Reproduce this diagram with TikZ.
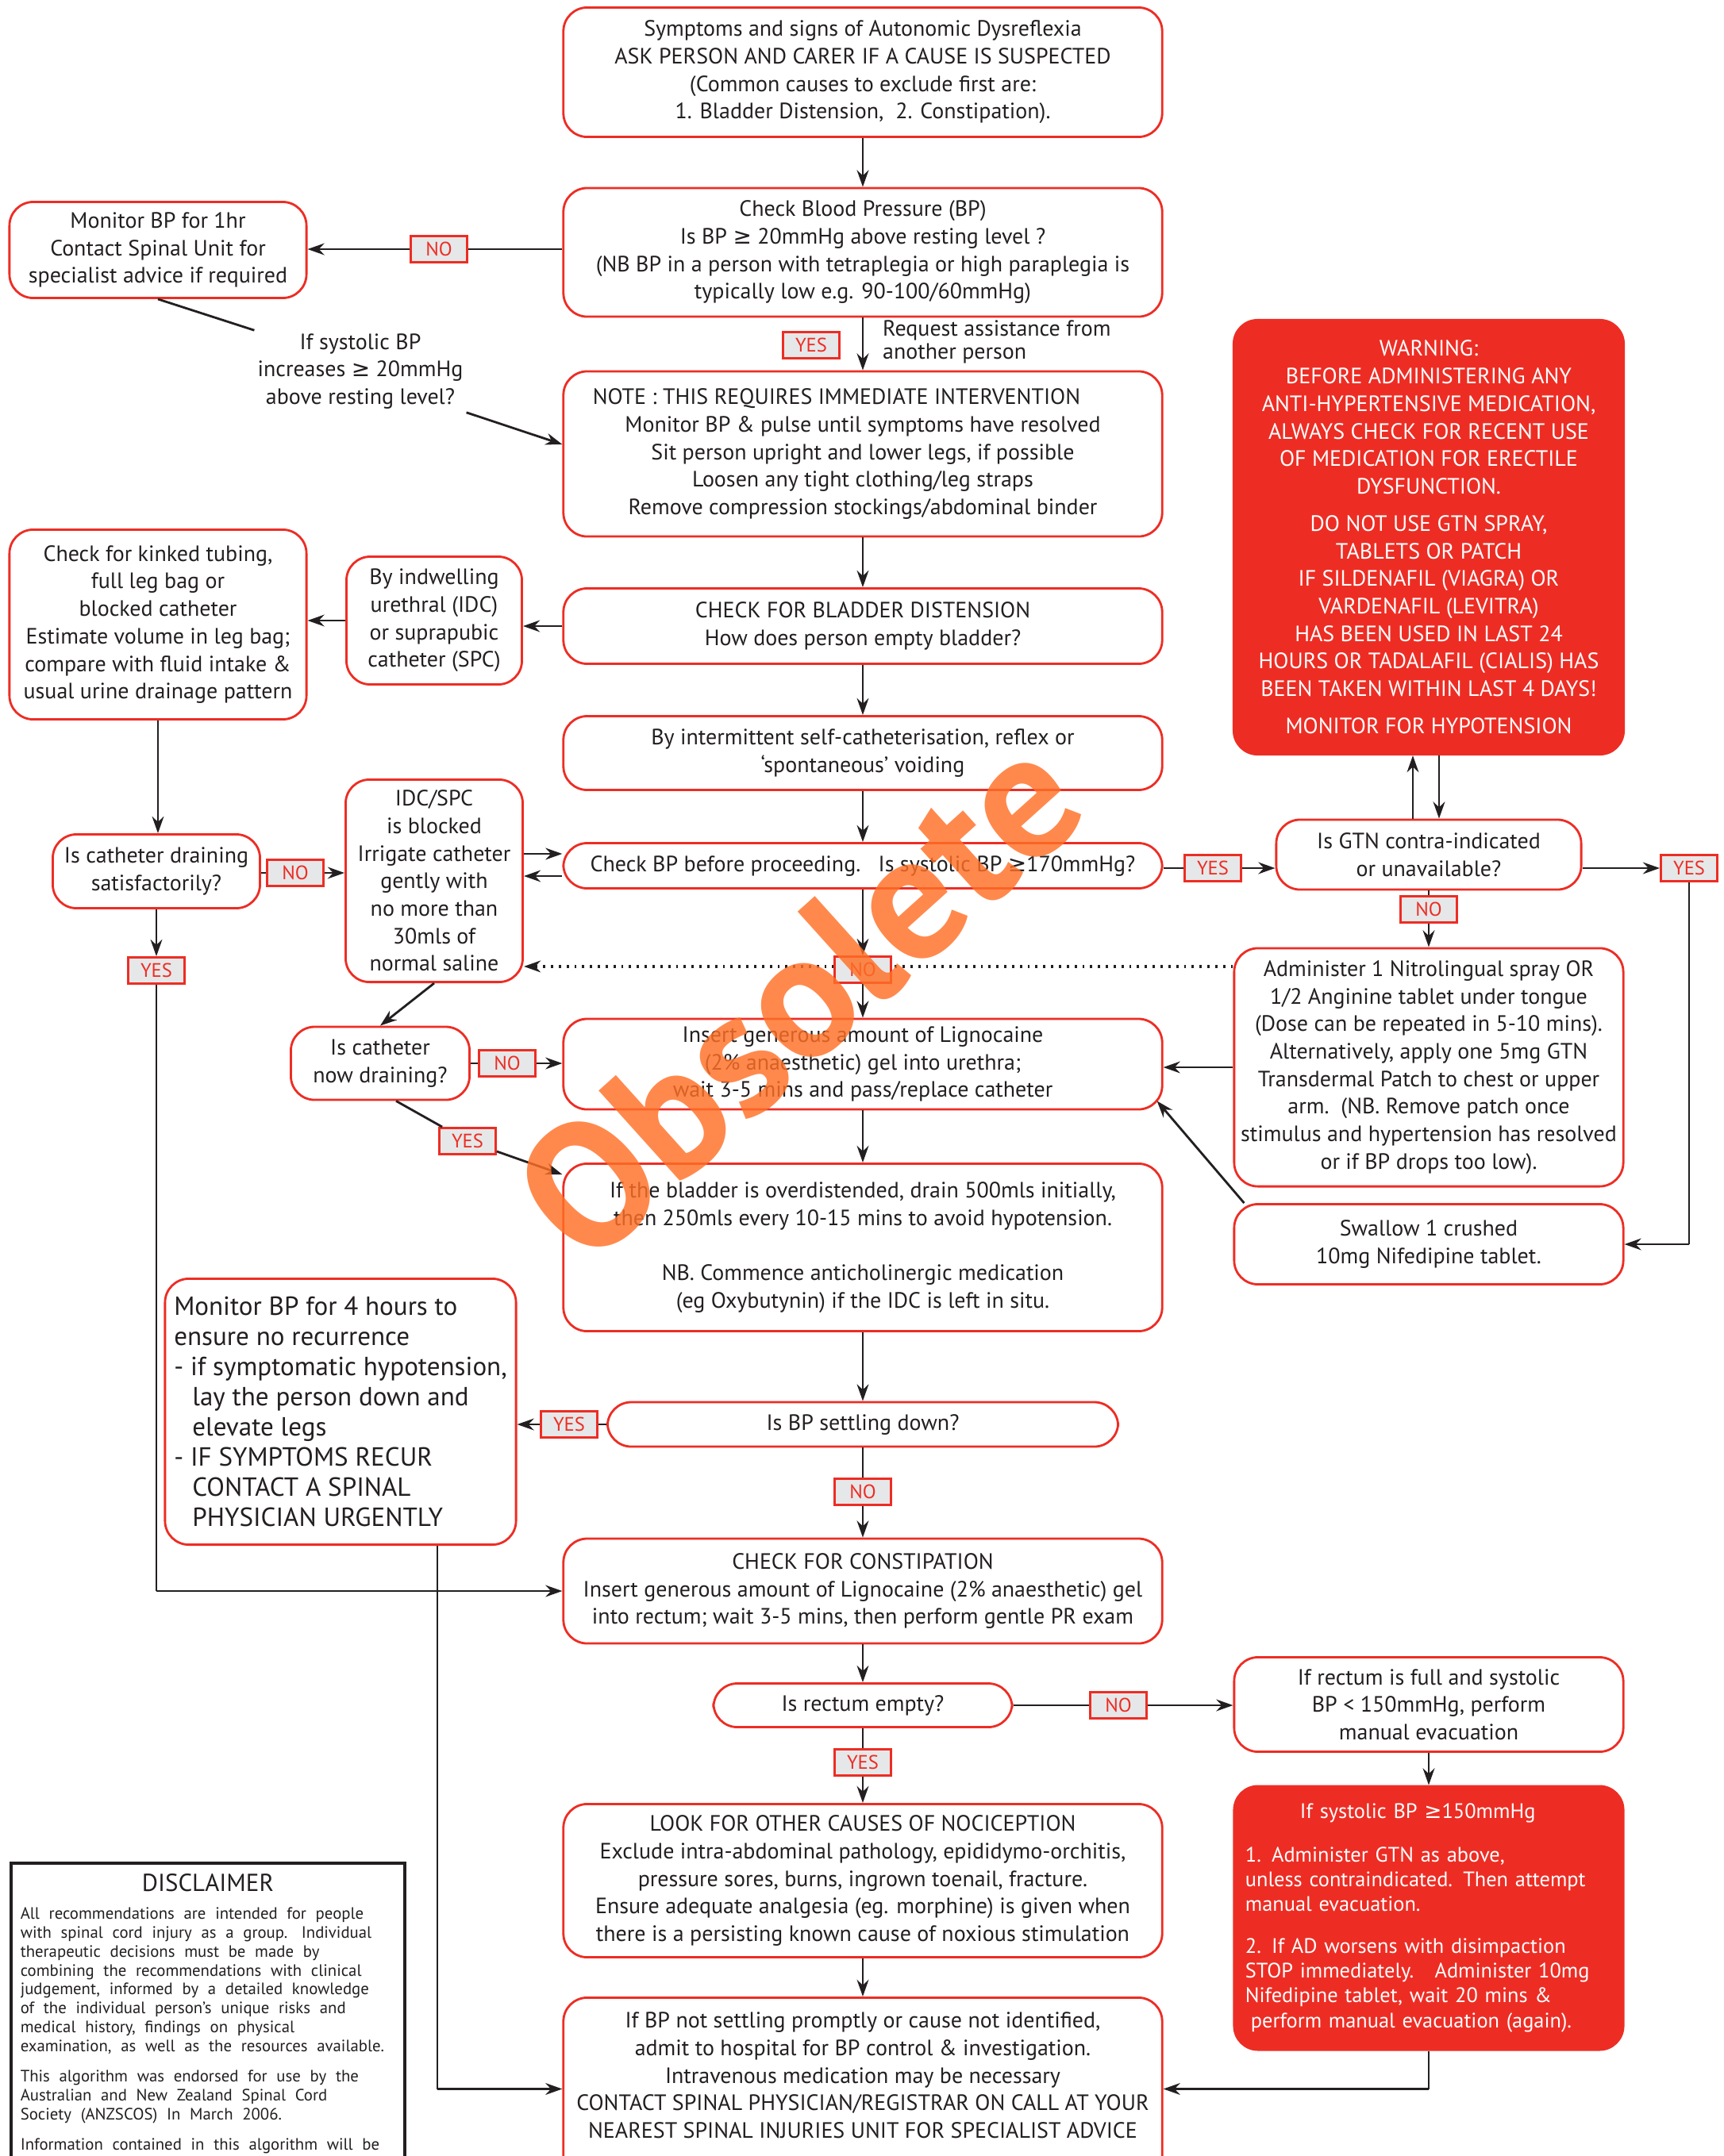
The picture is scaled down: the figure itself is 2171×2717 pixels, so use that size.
\documentclass[tikz,border=0pt]{standalone}
\usepackage{fontspec}
\setmainfont{PT Sans}
\newfontfamily\symfont{DejaVu Sans}
\usetikzlibrary{arrows.meta}
\definecolor{adred}{RGB}{237,45,36}
\definecolor{labgray}{RGB}{230,231,232}
\definecolor{ink}{RGB}{35,31,32}
\definecolor{stampcol}{RGB}{255,112,38}
\newcommand{\geqsym}{{\symfont ≥}}
\newcommand{\fsmain}{\fontsize{7.95}{9.87}\selectfont}
\newcommand{\fsreq}{\fontsize{7.95}{8.1}\selectfont}
\newcommand{\fsred}{\fontsize{7.5}{8.9}\selectfont}
\newcommand{\fsbig}{\fontsize{9.4}{10.8}\selectfont}
\newcommand{\fslab}{\fontsize{7}{7}\selectfont}
\newcommand{\fsdisc}{\fontsize{5.9}{6.8}\selectfont}
\newcommand{\fsdisctitle}{\fontsize{8.8}{9}\selectfont}
\tikzset{
	box/.style={draw=adred,line width=0.8pt,rounded corners=0.3cm,fill=white,
		align=center,inner sep=2pt,text=ink,font=\fsmain},
	mainbox/.style={box,minimum width=7.54cm},
	sidebox/.style={box,minimum width=4.9cm},
	redbox/.style={box,fill=adred,text=white},
	lab/.style={draw=adred,line width=0.8pt,fill=labgray,text=adred,font=\fslab,
		minimum width=0.71cm,minimum height=0.33cm,inner sep=0pt},
	arr/.style={draw=ink,line width=0.8pt,-{Stealth[length=6pt,width=4.2pt]}},
	line/.style={draw=ink,line width=0.8pt},
}
\begin{document}
\begin{tikzpicture}[x=0.01cm,y=-0.01cm]
	\useasboundingbox (0,0) rectangle (2171,2717);
	\fill[white] (0,0) rectangle (2171,2717);
%main column
	\node[mainbox,minimum height=1.63cm] (sym) at (1087,91)
		{Symptoms and signs of Autonomic Dysreflexia\\ASK PERSON AND CARER IF A CAUSE IS SUSPECTED\\(Common causes to exclude first are:\\1. Bladder Distension,\ \ 2. Constipation).};
	\node[mainbox,minimum height=1.62cm] (bp) at (1087,318)
		{Check Blood Pressure (BP)\\Is BP \geqsym{} 20mmHg above resting level ?\\(NB BP in a person with tetraplegia or high paraplegia is\\typically low e.g. 90-100/60mmHg)};
	\node[mainbox,minimum height=2.08cm] (note) at (1087,572)
		{NOTE : THIS REQUIRES IMMEDIATE INTERVENTION\hspace*{0.66cm}\\Monitor BP \& pulse until symptoms have resolved\\Sit person upright and lower legs, if possible\\Loosen any tight clothing/leg straps\\Remove compression stockings/abdominal binder};
	\node[mainbox,minimum height=0.95cm] (bladder) at (1087,789)
		{CHECK FOR BLADDER DISTENSION\\How does person empty bladder?};
	\node[mainbox,minimum height=0.93cm] (intermit) at (1087,949)
		{By intermittent self-catheterisation, reflex or\\`spontaneous' voiding};
	\node[mainbox,minimum height=0.57cm] (checkbp) at (1087,1091)
		{Check BP before proceeding.\ \ \ Is systolic BP \geqsym170mmHg?};
	\node[mainbox,minimum height=1.14cm] (ligno) at (1087,1341)
		{Insert generous amount of Lignocaine\\(2\% anaesthetic) gel into urethra;\\wait 3-5 mins and pass/replace catheter};
	\node[mainbox,minimum height=2.11cm] (overd) at (1087,1572)
		{If the bladder is overdistended, drain 500mls initially,\\then 250mls every 10-15 mins to avoid hypotension.\\[0.35cm]NB. Commence anticholinergic medication\\(eg Oxybutynin) if the IDC is left in situ.};
	\node[box,minimum width=6.43cm,minimum height=0.56cm] (settle) at (1087,1795)
		{Is BP settling down?};
	\node[mainbox,minimum height=1.32cm] (constip) at (1087,2005)
		{CHECK FOR CONSTIPATION\\Insert generous amount of Lignocaine (2\% anaesthetic) gel\\into rectum; wait 3-5 mins, then perform gentle PR exam};
	\node[box,minimum width=3.76cm,minimum height=0.55cm] (rectum) at (1087,2149)
		{Is rectum empty?};
	\node[mainbox,minimum height=1.93cm] (look) at (1087,2370)
		{LOOK FOR OTHER CAUSES OF NOCICEPTION\\Exclude intra-abdominal pathology, epididymo-orchitis,\\pressure sores, burns, ingrown toenail, fracture.\\Ensure adequate analgesia (eg. morphine) is given when\\there is a persisting known cause of noxious stimulation};
	\node[mainbox,minimum height=2.3cm,anchor=north] (final) at (1087,2516)
		{If BP not settling promptly or cause not identified,\\admit to hospital for BP control \& investigation.\\Intravenous medication may be necessary\\CONTACT SPINAL PHYSICIAN/REGISTRAR ON CALL AT YOUR\\NEAREST SPINAL INJURIES UNIT FOR SPECIALIST ADVICE\\\mbox{}};
%left column
	\node[box,minimum width=3.74cm,minimum height=1.21cm] (mon1) at (199,315)
		{Monitor BP for 1hr\\Contact Spinal Unit for\\specialist advice if required};
	\node[align=center,text=ink,font=\fsmain,inner sep=1pt] (ifsys) at (454,468)
		{If systolic BP\\increases \geqsym{} 20mmHg\\above resting level?};
	\node[align=left,text=ink,font=\fsreq,anchor=west,inner sep=1pt] (req) at (1108,431)
		{Request assistance from\\another person};
	\node[box,minimum width=3.74cm,minimum height=2.39cm] (kinked) at (199,787)
		{Check for kinked tubing,\\full leg bag or\\blocked catheter\\Estimate volume in leg bag;\\compare with fluid intake \&\\usual urine drainage pattern};
	\node[box,minimum width=2.21cm,minimum height=1.61cm] (indw) at (547,782)
		{By indwelling\\urethral (IDC)\\or suprapubic\\catheter (SPC)};
	\node[box,minimum width=2.61cm,minimum height=0.93cm] (catdrain) at (197,1098)
		{Is catheter draining\\satisfactorily?};
	\node[box,minimum width=2.23cm,minimum height=2.55cm] (idc) at (547,1110)
		{IDC/SPC\\is blocked\\Irrigate catheter\\gently with\\no more than\\30mls of\\normal saline};
	\node[box,minimum width=2.25cm,minimum height=0.92cm] (catnow) at (479,1340)
		{Is catheter\\now draining?};
	\node[box,minimum width=4.42cm,minimum height=3.35cm,align=left,font=\fsbig] (mon4) at (429,1779)
		{Monitor BP for 4 hours to\\ensure no recurrence\\- if symptomatic hypotension,\\\hspace*{0.7em}lay the person down and\\\hspace*{0.7em}elevate legs\\- IF SYMPTOMS RECUR\\\hspace*{0.7em}CONTACT A SPINAL\\\hspace*{0.7em}PHYSICIAN URGENTLY};
	\node[draw=ink,line width=1pt,anchor=north west,text width=4.72cm,inner xsep=0.12cm,
		inner ysep=0.14cm,text=ink] (disc) at (12,2346)
		{\setlength{\parindent}{0pt}\hyphenpenalty=10000\makebox[\linewidth][c]{\fsdisctitle DISCLAIMER}\par\vspace{3pt}
		\fsdisc All recommendations are intended for people\linebreak
		with spinal cord injury as a group. Individual\linebreak
		therapeutic decisions must be made by\linebreak
		combining the recommendations with clinical\linebreak
		judgement, informed by a detailed knowledge\linebreak
		of the individual person's unique risks and\linebreak
		medical history, findings on physical\linebreak
		examination, as well as the resources available.\par\vspace{4pt}
		This algorithm was endorsed for use by the\linebreak
		Australian and New Zealand Spinal Cord\linebreak
		Society (ANZSCOS) In March 2006.\par\vspace{4pt}
		Information contained in this algorithm will be\linebreak\mbox{}\par\vspace*{0.6cm}\mbox{}};
%right column
	\node[redbox,minimum width=4.91cm,minimum height=5.47cm] (warn) at (1800,677)
		{WARNING:\\BEFORE ADMINISTERING ANY\\ANTI-HYPERTENSIVE MEDICATION,\\ALWAYS CHECK FOR RECENT USE\\OF MEDICATION FOR ERECTILE\\DYSFUNCTION.\\[3.5pt]DO NOT USE GTN SPRAY,\\TABLETS OR PATCH\\IF SILDENAFIL (VIAGRA) OR\\VARDENAFIL (LEVITRA)\\HAS BEEN USED IN LAST 24\\HOURS OR TADALAFIL (CIALIS) HAS\\BEEN TAKEN WITHIN LAST 4 DAYS!\\[3.5pt]MONITOR FOR HYPOTENSION};
	\node[box,minimum width=3.84cm,minimum height=0.88cm] (gtn) at (1800,1077)
		{Is GTN contra-indicated\\or unavailable?};
	\node[sidebox,minimum height=3.0cm] (admin) at (1800,1345)
		{Administer 1 Nitrolingual spray OR\\1/2 Anginine tablet under tongue\\(Dose can be repeated in 5-10 mins).\\Alternatively, apply one 5mg GTN\\Transdermal Patch to chest or upper\\arm.\ \ (NB. Remove patch once\\stimulus and hypertension has resolved\\or if BP drops too low).};
	\node[sidebox,minimum height=1.01cm] (swallow) at (1800,1568)
		{Swallow 1 crushed\\10mg Nifedipine tablet.};
	\node[sidebox,minimum height=1.19cm] (rfull) at (1800,2148)
		{If rectum is full and systolic\\BP < 150mmHg, perform\\manual evacuation};
	\node[redbox,text width=4.62cm,inner xsep=0.14cm,minimum height=3.32cm,align=left,font=\fsred] (red2) at (1800,2417)
		{\hspace*{0.69cm}If systolic BP \geqsym150mmHg\\[6.5pt]1. Administer GTN as above,\\unless contraindicated. Then attempt\\manual evacuation.\\[6pt]2. If AD worsens with disimpaction\\STOP immediately.\ \ \ Administer 10mg\\Nifedipine tablet, wait 20 mins \&\\\hspace*{2pt}perform manual evacuation (again).};
%labels
	\node[lab] (no1) at (553,314) {NO};
	\node[lab] (yes1) at (1022,435) {YES};
	\node[lab] (no2) at (372,1100) {NO};
	\node[lab] (yes2) at (197,1223) {YES};
	\node[lab] (yes3) at (1528,1094) {YES};
	\node[lab] (no4) at (1800,1146) {NO};
	\node[lab] (yes4) at (2128,1094) {YES};
	\node[lab] (no5) at (639,1340) {NO};
	\node[lab] (yes5) at (589,1438) {YES};
	\node[lab] (yes6) at (717,1795) {YES};
	\node[lab] (no6) at (1087,1880) {NO};
	\node[lab] (no7) at (1409,2149) {NO};
	\node[lab] (yes7) at (1087,2221) {YES};
%connectors
	\draw[arr] (sym) -- (bp);
	\draw[line] (bp.west |- no1) -- (no1);
	\draw[arr] (no1) -- (no1 -| mon1.east);
	\draw[line] (mon1.south) -- (ifsys.north west);
	\draw[arr] (ifsys.south east) -- ([yshift=0.12cm]note.west);
	\draw[arr] (bp) -- (note);
	\draw[arr] (note) -- (bladder);
	\draw[arr] (bladder.west) -- (bladder.west -| indw.east);
	\draw[arr] (indw.west) -- (indw.west -| kinked.east);
	\draw[arr] (kinked.south) -- (kinked.south |- catdrain.north);
	\draw[line] (catdrain.east |- no2) -- (no2);
	\draw[arr] (no2) -- (no2 -| idc.west);
	\draw[arr] (catdrain) -- (yes2);
	\draw[line] (yes2.south) -- (yes2.south |- constip.west);
	\draw[arr] (yes2.south |- constip.west) -- (constip.west);
	\draw[arr] (bladder) -- (intermit);
	\draw[arr] (intermit) -- (checkbp);
	\draw[arr] ([yshift=0.34cm]idc.east) -- ([yshift=0.34cm]idc.east -| checkbp.west);
	\draw[arr] ([yshift=0.06cm]idc.east -| checkbp.west) -- ([yshift=0.06cm]idc.east);
	\draw[arr] (idc.south) -- (catnow.north);
	\draw[arr,dotted,line width=1pt] ([yshift=1.27cm]admin.west) -- ([yshift=1.27cm]admin.west -| idc.east);
	\node[lab] (no3) at (1087,1222) {NO};
	\draw[arr] (checkbp) -- (no3);
	\draw[arr] (no3) -- (ligno);
	\draw[line] (checkbp.east |- yes3) -- (yes3);
	\draw[arr] (yes3) -- (yes3 -| gtn.west);
	\draw[arr] ([xshift=-0.2cm]gtn.north) -- ([xshift=-0.2cm]gtn.north |- warn.south);
	\draw[arr] ([xshift=0.13cm]gtn.north |- warn.south) -- ([xshift=0.13cm]gtn.north);
	\draw[arr] (yes4 -| gtn.east) -- (yes4);
	\draw[line] (yes4.south) -- (yes4.south |- swallow.east);
	\draw[arr] (yes4.south |- swallow.east) -- (swallow.east);
	\draw[line] (gtn) -- (no4);
	\draw[arr] (no4) -- (admin);
	\draw[arr] (admin.west) -- (admin.west -| ligno.east);
	\draw[arr] ([xshift=0.14cm]swallow.north west) -- ([xshift=-0.08cm,yshift=0.12cm]ligno.south east);
	\draw[line] (catnow.east) -- (no5);
	\draw[arr] (no5) -- (no5 -| ligno.west);
	\draw[line] ([xshift=0.2cm]catnow.south) -- (yes5);
	\draw[arr] (yes5) -- ([yshift=-0.15cm]overd.north west);
	\draw[arr] (ligno) -- (overd);
	\draw[arr] (overd) -- (settle);
	\draw[line] (settle) -- (yes6);
	\draw[arr] (yes6) -- (yes6 -| mon4.east);
	\draw[line] (settle) -- (no6);
	\draw[arr] (no6) -- (constip);
	\draw[arr] (constip) -- (rectum);
	\draw[line] (rectum) -- (no7);
	\draw[arr] (no7) -- (no7 -| rfull.west);
	\draw[arr] (rfull) -- (red2);
	\draw[line] (rectum) -- (yes7);
	\draw[arr] (yes7) -- (look);
	\draw[arr] (look) -- (final);
	\draw[line] ([xshift=1.22cm]mon4.south) -- ([xshift=1.22cm]mon4.south |- final.west);
	\draw[arr] ([xshift=1.22cm]mon4.south |- final.west) -- (final.west);
	\draw[line] (red2.south) -- (red2.south |- final.east);
	\draw[arr] (red2.south |- final.east) -- (final.east);
%stamp
	\node[rotate=42,text=stampcol,opacity=0.82,inner sep=0pt,
		font=\fontsize{64}{64}\selectfont\bfseries] (stamp) at (1005,1255) {Obsolete};
\end{tikzpicture}
\end{document}
